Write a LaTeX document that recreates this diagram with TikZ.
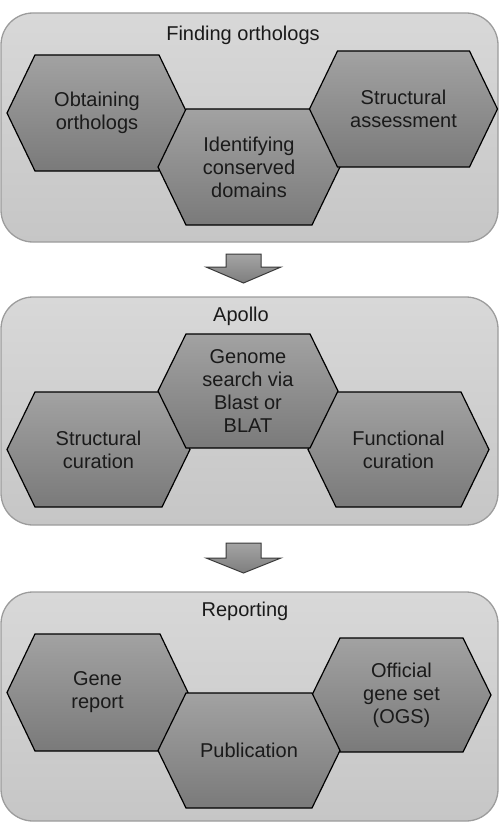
\documentclass[tikz,border=0pt]{standalone}
\usepackage{fontspec}
\setmainfont{Liberation Sans}
\definecolor{txt}{HTML}{1A1A1A}
\definecolor{panelTop}{HTML}{D8D8D8}
\definecolor{panelBot}{HTML}{C6C6C6}
\definecolor{panelEdge}{HTML}{9C9C9C}
\definecolor{hexTop}{HTML}{A2A2A2}
\definecolor{hexBot}{HTML}{7A7A7A}
\definecolor{arrTop}{HTML}{A4A4A4}
\definecolor{arrBot}{HTML}{7E7E7E}
\definecolor{arrEdge}{HTML}{3A3A3A}
\tikzset{
  panel/.style={draw=panelEdge, line width=1.3pt, rounded corners=32pt,
    top color=panelTop, bottom color=panelBot, minimum width=497pt,
    inner sep=0pt, outer sep=0pt},
  hexshape/.style={draw=black, line width=1.2pt, top color=hexTop, bottom color=hexBot, line join=miter},
  hextext/.style={font=\fontsize{20}{23}\selectfont, text=txt, align=center, inner sep=0pt},
  paneltitle/.style={font=\fontsize{20}{23}\selectfont, text=txt, inner sep=0pt},
  blockarrow/.style={draw=arrEdge, line width=1pt, top color=arrTop, bottom color=arrBot, line join=miter}
}
% name, cx, cy (pixels, downwards), half width, half height, text
\newcommand{\hexcell}[6]{%
  \path[hexshape] ({#2-#4},{-#3}) -- ({#2-#4+28},{-#3+#5}) -- ({#2+#4-28},{-#3+#5})
    -- ({#2+#4},{-#3}) -- ({#2+#4-28},{-#3-#5}) -- ({#2-#4+28},{-#3-#5}) -- cycle;
  \node[hextext] (#1) at (#2,{-#3}) {#6};
}
\begin{document}
\begin{tikzpicture}[x=1pt,y=1pt]
\useasboundingbox (0,0) rectangle (500,-832);
% panels
\node[panel, minimum height=229pt] (p1) at (249.5,-127.5) {};
\node[panel, minimum height=228pt] (p2) at (249.5,-411) {};
\node[panel, minimum height=229pt] (p3) at (249.5,-706.5) {};
% titles
\node[paneltitle] (t1) at (243,-35) {Finding orthologs};
\node[paneltitle] (t2) at (241,-316) {Apollo};
\node[paneltitle] (t3) at (245,-611) {Reporting};
% panel 1
\hexcell{obt}{97}{113}{90}{58}{Obtaining\\orthologs}
\hexcell{ident}{249}{167}{91}{58}{Identifying\\conserved\\domains}
\hexcell{struct}{403.5}{109}{94}{58}{Structural\\assessment}
% panel 2
\hexcell{scur}{98.5}{449.5}{91.5}{57.5}{Structural\\curation}
\hexcell{fcur}{398.5}{449.5}{90.5}{57.5}{Functional\\curation}
\hexcell{genome}{248}{391}{90}{57}{Genome\\search via\\Blast or\\BLAT}
% panel 3
\hexcell{gene}{97.5}{692.5}{90.5}{58.5}{Gene\\report}
\hexcell{ogs}{401.5}{695}{89.5}{57}{Official\\gene set\\(OGS)}
\hexcell{pub}{249}{750.5}{91}{57.5}{Publication}
% block arrows between panels
\path[blockarrow] (226,-254) -- (261,-254) -- (261,-267) -- (281,-267) -- (243.5,-283)
  -- (206,-267) -- (226,-267) -- cycle;
\path[blockarrow] (226,-543) -- (261,-543) -- (261,-558) -- (281,-558) -- (243.5,-573)
  -- (206,-558) -- (226,-558) -- cycle;
\end{tikzpicture}
\end{document}
